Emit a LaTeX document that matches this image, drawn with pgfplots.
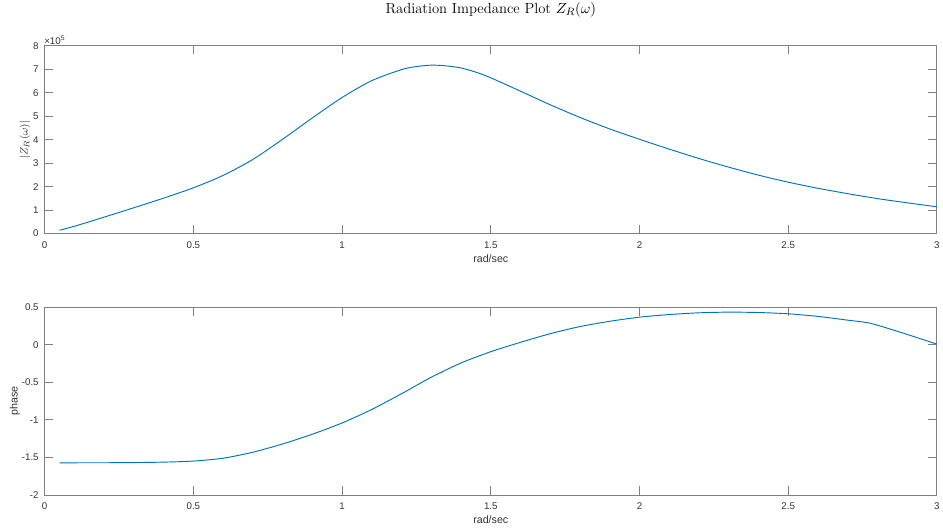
\documentclass[border=0pt]{standalone}
\usepackage{pgfplots}
\pgfplotsset{compat=1.18}
\usepackage{fontspec}
\newfontfamily\arial{Liberation Sans}
\definecolor{mblue}{rgb}{0,0.447,0.741}
\definecolor{axgray}{rgb}{0.5,0.5,0.5}
\definecolor{txgray}{rgb}{0.2,0.2,0.2}
\newcommand{\tickfont}{\arial\fontsize{7.3}{8.5}\selectfont}
\newcommand{\labfont}{\arial\fontsize{8}{9.5}\selectfont}

\pgfplotsset{
  mstyle/.style={
    scale only axis,
    width=669.2pt,
    height=140.7pt,
    xmin=0, xmax=3,
    xtick={0,0.5,1,1.5,2,2.5,3},
    tick align=inside,
    major tick length=6.4pt,
    axis line style={axgray, line width=0.7pt},
    every tick/.style={axgray, line width=0.7pt},
    tick label style={font=\tickfont, text=txgray},
    /pgf/number format/assume math mode=true,
    xticklabel style={yshift=-2.6pt},
    yticklabel style={xshift=-1pt},
    xlabel={rad/sec},
    xlabel style={font=\labfont, text=txgray, at={(axis description cs:0.5,0)}, anchor=center, yshift=-18.75pt},
    clip=true,
  }
}

\pgfplotstableread{
w mag
0.05 14000
0.1 31000
0.2 70000
0.3 110000
0.4 151000
0.5 195000
0.6 248000
0.7 316000
0.8 402000
0.9 493000
1.0 580000
1.1 652000
1.2 699000
1.25 712000
1.3 718000
1.35 715000
1.4 706000
1.45 688000
1.5 664000
1.6 607000
1.7 549000
1.8 495000
1.9 446000
2.0 402000
2.1 360000
2.2 320000
2.3 283000
2.4 249000
2.5 219000
2.6 193000
2.7 170000
2.8 149000
2.9 131000
3.0 114000
}\magtable

\pgfplotstableread{
w ph
0.05 -1.571
0.2 -1.570
0.3 -1.568
0.4 -1.562
0.5 -1.548
0.6 -1.510
0.7 -1.430
0.8 -1.320
0.9 -1.190
1.0 -1.040
1.1 -0.860
1.2 -0.650
1.3 -0.430
1.4 -0.240
1.5 -0.090
1.6 0.035
1.7 0.150
1.8 0.245
1.9 0.315
2.0 0.370
2.1 0.405
2.2 0.428
2.3 0.437
2.4 0.432
2.5 0.415
2.6 0.380
2.7 0.330
2.78 0.285
2.9 0.140
3.0 0.010
}\phtable

\begin{document}
\begin{tikzpicture}
\path[use as bounding box] (0,0) rectangle (707.25pt,396.75pt);

\begin{axis}[mstyle,
  at={(33.5pt,221.6pt)}, anchor=south west,
  ymin=0, ymax=800000,
  ytick={0,100000,200000,300000,400000,500000,600000,700000,800000},
  scaled y ticks=base 10:-5,
  ytick scale label code/.code={\tickfont\textcolor{txgray}{×10\textsuperscript{5}}},
  every y tick scale label/.style={at={(rel axis cs:0,1)}, anchor=south west, inner sep=0.5pt, yshift=0.5pt},
  ylabel={$|Z_R(\omega)|$},
  ylabel style={font=\fontsize{8}{9}\selectfont, text=txgray, at={(axis description cs:-0.0221,0.5)}, anchor=center},
  title={Radiation Impedance Plot $Z_R(\omega)$},
  title style={font=\fontsize{11}{13}\selectfont, at={(axis description cs:0.5,1)}, anchor=center, yshift=21pt},
]
\addplot[mblue, line width=0.7pt, smooth, tension=0.5] table[x=w, y=mag] {\magtable};
\end{axis}

\begin{axis}[mstyle,
  at={(33.5pt,25.5pt)}, anchor=south west,
  ymin=-2, ymax=0.5,
  ytick={-2,-1.5,-1,-0.5,0,0.5},
  ylabel={phase},
  ylabel style={font=\labfont, text=txgray, at={(axis description cs:-0.0333,0.5)}, anchor=center},
]
\addplot[mblue, line width=0.7pt, smooth, tension=0.4] table[x=w, y=ph] {\phtable};
\end{axis}
\end{tikzpicture}
\end{document}
